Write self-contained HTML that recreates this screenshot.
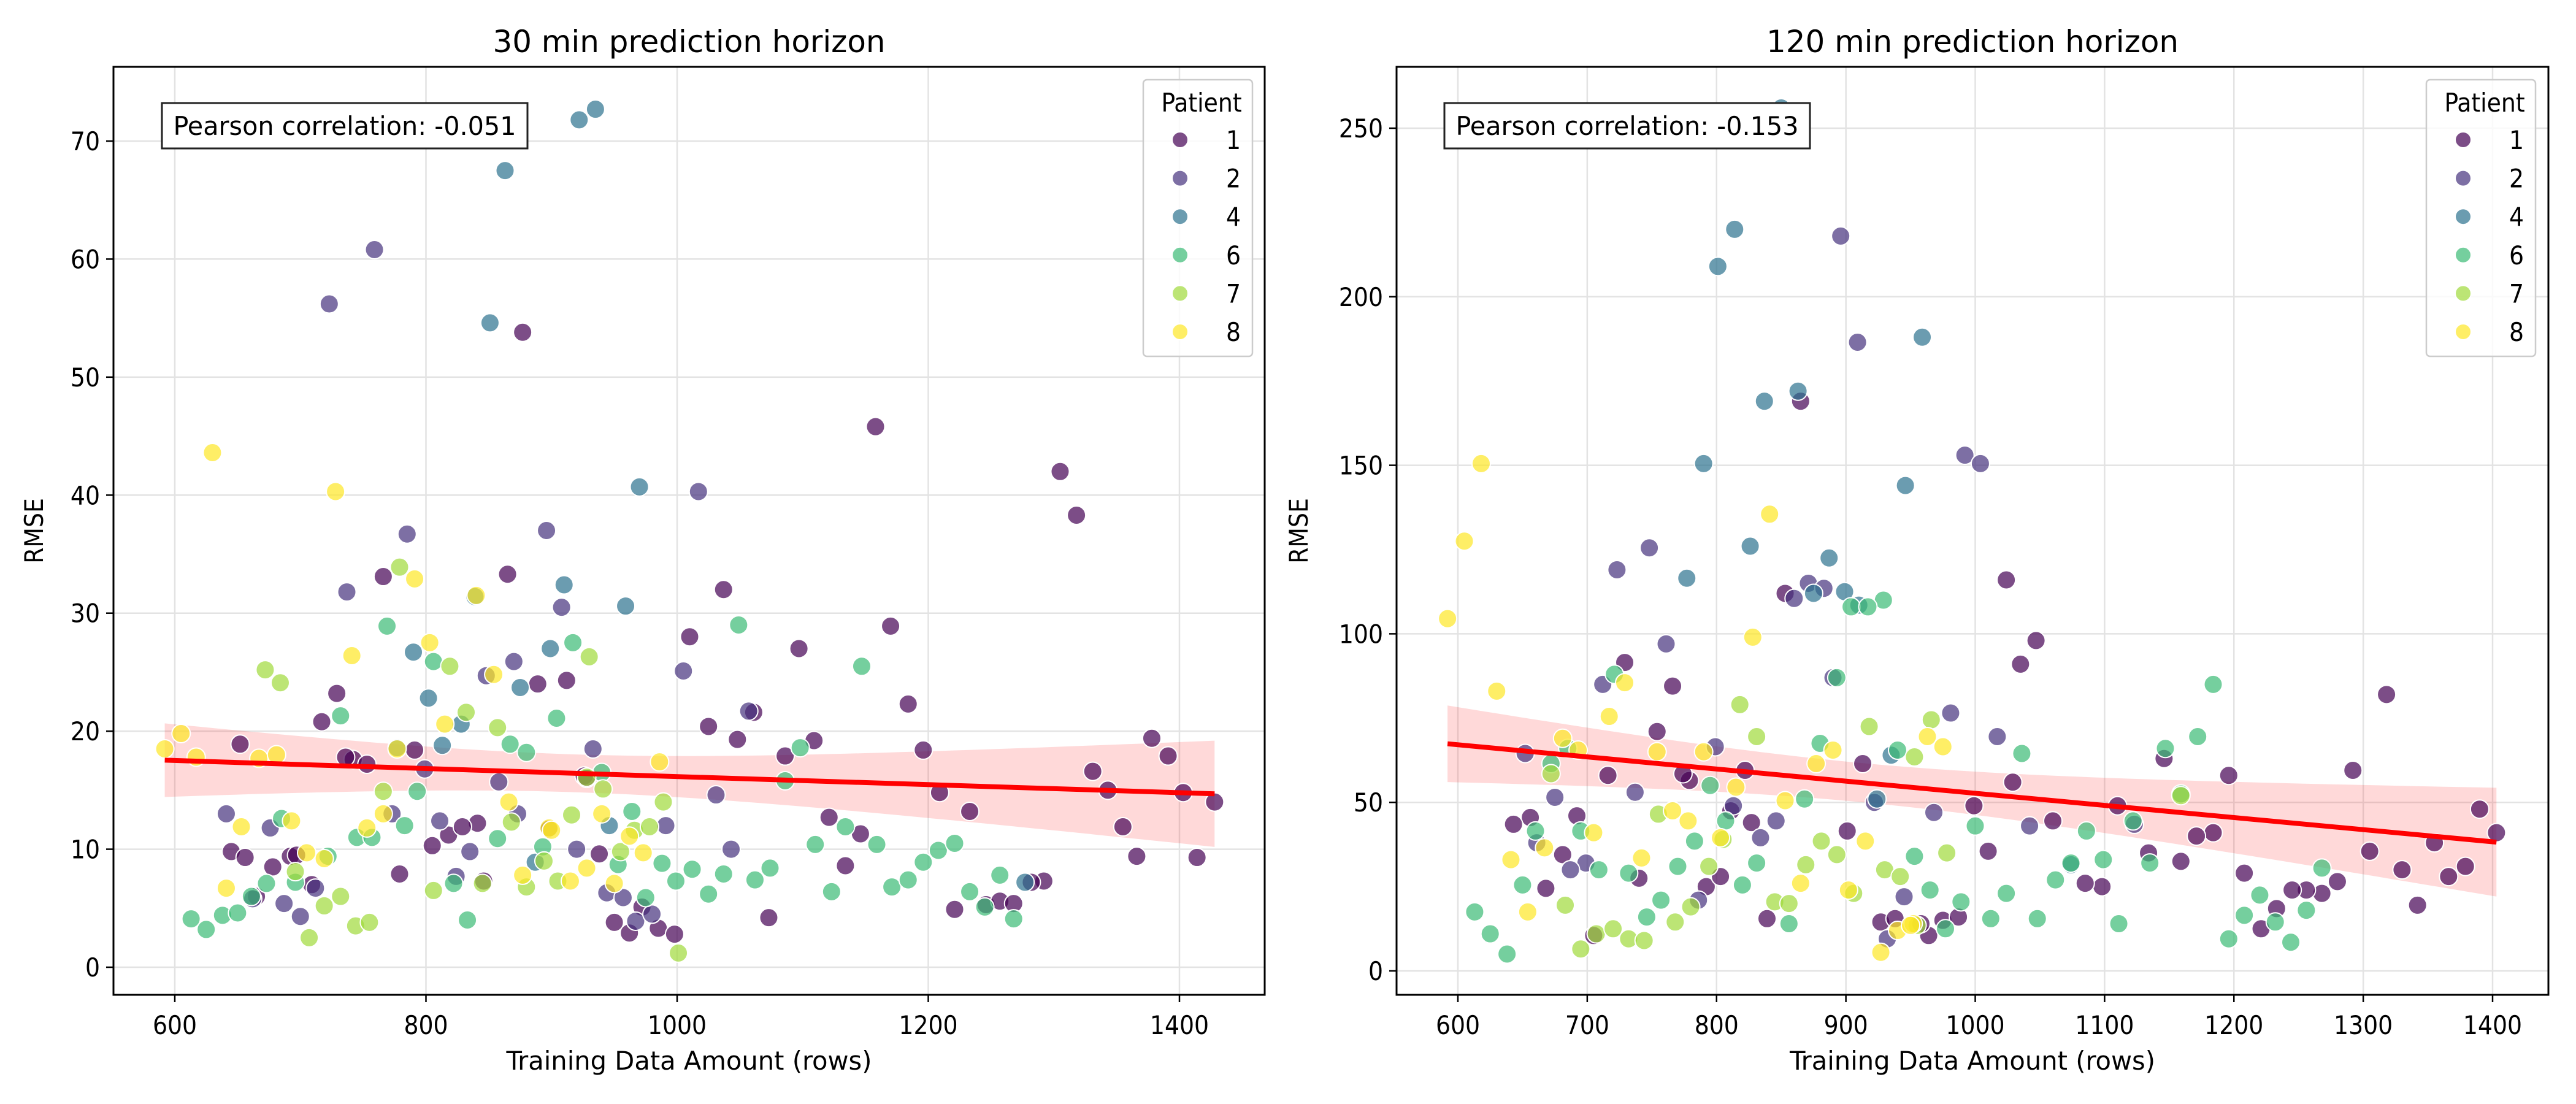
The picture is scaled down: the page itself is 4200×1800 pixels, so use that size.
<!DOCTYPE html>
<html><head><meta charset="utf-8"><style>
body{margin:0;background:#fff}
svg{display:block;font-family:"DejaVu Sans Condensed","DejaVu Sans","Liberation Sans",sans-serif}
</style></head><body>
<svg id="fig" width="4200" height="1800" viewBox="0 0 4200 1800" xmlns="http://www.w3.org/2000/svg"></svg>
<script>
// ---------- data ----------
const patients = [1,2,4,6,7,8];
const colors = ['#440154','#46327e','#2c728e','#3bbb75','#9fda3a','#fde725'];

const left_p1 = [[877,53.8],[1158,45.8],[1305,42],[1318,38.3],[865,33.3],[1037,32],[1170,28.9],[1010,28],[1097,27],[889,24],[912,24.3],[729,23.2],[1184,22.3],[1061,21.6],[717,20.8],[1025,20.4],[1048,19.3],[1109,19.2],[1378,19.4],[1196,18.4],[652,18.9],[791,18.4],[1391,17.9],[1086,17.9],[742,17.6],[753,17.2],[1331,16.6],[926,16.2],[1343,15],[1209,14.8],[1403,14.8],[1428,14],[1233,13.2],[1121,12.7],[841,12.2],[1355,11.9],[1146,11.3],[818,11.2],[829,11.9],[645,9.8],[938,9.6],[1366,9.4],[656,9.3],[692,9.4],[1414,9.3],[1134,8.6],[678,8.5],[1292,7.3],[1282,7.2],[779,7.9],[846,7.3],[805,10.3],[709,7.0],[1246,5.3],[1257,5.6],[1268,5.4],[1221,4.9],[1073,4.2],[950,3.8],[962,2.9],[985,3.3],[998,2.8],[972,5.1],[665,6.0],[697,9.5],[736,17.8],[766,33.1],[898,11.7],[928,16.0]];
const left_p2 = [[759,60.8],[723,56.2],[1017,40.3],[785,36.7],[896,37],[737,31.8],[908,30.5],[1005,25.1],[870,25.9],[848,24.7],[933,18.5],[1057,21.7],[799,16.8],[858,15.7],[641,13],[676,11.8],[811,12.4],[920,10],[991,12],[835,9.8],[1031,14.6],[1043,10],[873,13],[687,5.4],[700,4.3],[712,6.7],[662,5.8],[824,7.7],[944,6.3],[957,5.9],[967,3.9],[980,4.5],[773,13]];
const left_p4 = [[935,72.7],[922,71.8],[863,67.5],[851,54.6],[970,40.7],[910,32.4],[959,30.6],[839,31.4],[899,27],[790,26.7],[875,23.7],[802,22.8],[828,20.6],[813,18.8],[777,18.6],[946,12],[887,8.9],[1277,7.2]];
const left_p6 = [[769,28.9],[1049,29],[917,27.5],[1147,25.5],[806,25.9],[732,21.3],[904,21.1],[867,18.9],[1098,18.6],[880,18.2],[964,13.2],[793,14.9],[745,11],[757,11],[783,12],[857,10.9],[893,10.2],[1110,10.4],[1134,11.9],[1159,10.4],[1208,9.9],[1221,10.5],[1196,8.9],[988,8.8],[953,8.7],[1012,8.3],[1037,7.9],[1062,7.4],[1074,8.4],[999,7.3],[1025,6.2],[1123,6.4],[1171,6.8],[1184,7.4],[1233,6.4],[1257,7.8],[1245,5.1],[1268,4.1],[975,5.9],[822,7.1],[673,7.1],[661,6],[613,4.1],[625,3.2],[638,4.4],[650,4.6],[685,12.6],[722,9.4],[833,4],[696,7.2],[1086,15.8],[940,16.5]];
const left_p7 = [[672,25.2],[684,24.1],[779,33.9],[819,25.5],[930,26.3],[832,21.6],[857,20.3],[766,14.9],[868,12.3],[916,12.9],[955,9.8],[966,11.6],[978,11.9],[989,14],[941,15.1],[894,9],[880,6.8],[905,7.3],[845,7.1],[806,6.5],[732,6],[719,5.2],[707,2.5],[744,3.5],[755,3.8],[696,8.1],[1001,1.2],[928,16.1]];
const left_p8 = [[592,18.5],[605,19.8],[617,17.8],[667,17.7],[681,18],[630,43.6],[728,40.3],[791,32.9],[741,26.4],[803,27.5],[840,31.5],[854,24.8],[815,20.6],[777,18.5],[866,14],[940,13],[986,17.4],[766,13],[753,11.8],[693,12.4],[653,11.9],[705,9.7],[719,9.2],[641,6.7],[898,11.8],[900,11.6],[962,11.1],[973,9.7],[928,8.4],[950,7.1],[915,7.3],[877,7.8]];

const right_p1 = [[865,169],[1024,116],[1047,98],[1035,91],[853,112],[1318,82],[754,71],[729,91.5],[766,84.5],[716,58],[1292,59.5],[1196,58],[1146,63],[1010,35.5],[1029,56],[901,41.5],[913,61.5],[822,59.5],[999,49],[1110,49],[1060,44.5],[1184,41],[1171,40],[1390,48],[1403,41],[1355,38],[1305,35.5],[1330,30],[1379,31],[1366,28],[1342,19.5],[1280,26.5],[1268,23],[1256,24],[1245,24],[1233,18.5],[1221,12.5],[1208,29],[1134,35],[1159,32.5],[1098,25],[1085,26],[792,25],[803,28],[740,27.5],[779,56.5],[774,58.5],[668,24.5],[656,45.5],[643,43.5],[681,34.5],[692,46],[705,10.5],[827,44],[811,47.5],[839,15.5],[927,14.5],[938,15.5],[964,10.5],[975,15],[987,16],[958,14]];
const right_p2 = [[896,218],[909,186.5],[992,153],[1004,150.5],[723,119],[748,125.5],[860,110.5],[871,115],[883,113.5],[761,97],[712,85],[981,76.5],[1017,69.5],[799,66.5],[890,87],[675,51.5],[652,64.5],[661,38],[737,53],[699,32],[687,30],[786,21],[834,39.5],[846,44.5],[922,50],[968,47],[1042,43],[945,22],[932,9.5],[1123,43.5],[813,49]];
const right_p4 = [[850,256],[814,220],[801,209],[959,188],[863,172],[837,169],[790,150.5],[946,144],[887,122.5],[826,126],[777,116.5],[899,112.5],[875,112],[910,108.5],[935,64],[924,51],[1074,31.5]];
const right_p6 = [[929,110],[904,108],[917,108],[1184,85],[721,88],[893,87],[1172,69.5],[1147,66],[1036,64.5],[940,65.5],[880,67.5],[685,66],[672,61.5],[660,41.5],[695,41.5],[709,30],[732,29],[795,55],[807,44.5],[868,51],[1000,43],[1086,41.5],[1159,52.5],[1122,44.5],[1099,33],[1074,32],[1062,27],[953,34],[831,32],[770,31],[783,38.5],[757,21],[746,16],[650,25.5],[613,17.5],[625,11],[638,5],[820,25.5],[856,14],[965,24],[977,12.5],[989,20.5],[1012,15.5],[1024,23],[1048,15.5],[1111,14],[1196,9.5],[1208,16.5],[1220,22.5],[1232,14.5],[1244,8.5],[1256,18],[1268,30.5],[1135,32]];
const right_p7 = [[818,79],[831,69.5],[918,72.5],[966,74.5],[953,63.5],[1159,52],[755,46.5],[672,58.5],[780,19],[768,14.5],[683,19.5],[695,6.5],[707,11],[720,12.5],[732,9.5],[744,9],[794,31],[805,39],[845,20.5],[856,20],[869,31.5],[881,38.5],[893,34.5],[906,23],[930,30],[942,28],[978,35],[955,13.5]];
const right_p8 = [[592,104.5],[605,127.5],[618,150.5],[630,83],[641,33],[654,17.5],[667,36.5],[681,69],[693,65.5],[705,41],[717,75.5],[729,85.5],[742,33.5],[754,65],[766,47.5],[778,44.5],[790,65],[803,39.5],[815,54.5],[828,99],[841,135.5],[853,50.5],[865,26],[890,65.5],[877,61.5],[902,24],[915,38.5],[927,5.5],[940,12],[952,14],[963,69.5],[975,66.5],[950,13.5]];

const leftXTicks = [600,800,1000,1200,1400];
const leftYTicks = [0,10,20,30,40,50,60,70];
const rightXTicks = [600,700,800,900,1000,1100,1200,1300,1400];
const rightYTicks = [0,50,100,150,200,250];
const leftTitle = '30 min prediction horizon';
const rightTitle = '120 min prediction horizon';
const leftCorr = 'Pearson correlation: -0.051';
const rightCorr = 'Pearson correlation: -0.153';

// ---------- drawing ----------
const NS='http://www.w3.org/2000/svg';
const svg=document.getElementById('fig');
function mk(tag,attrs,parent){const e=document.createElementNS(NS,tag);for(const k in attrs)e.setAttribute(k,attrs[k]);(parent||svg).appendChild(e);return e;}

function panel(cfg){
  const g=mk('g',{});
  
  
  const X=v=>cfg.px0+(v-cfg.xa)*(cfg.px1-cfg.px0)/(cfg.xb-cfg.xa);
  const Y=v=>cfg.py0+(v-cfg.ya)*(cfg.py1-cfg.py0)/(cfg.yb-cfg.ya);
  const L=cfg.L,R=cfg.R,T=cfg.T,B=cfg.B;
  cfg.xt.forEach(t=>{const l=mk('line',{x1:X(t),x2:X(t),y1:T,y2:B,stroke:'#e3e3e3','stroke-width':2.5},g);
    });
  cfg.yt.forEach(t=>{const l=mk('line',{x1:L,x2:R,y1:Y(t),y2:Y(t),stroke:'#e3e3e3','stroke-width':2.5},g);
    });
  const all=[];cfg.series.forEach(s=>s.forEach(p=>all.push(p)));
  const n=all.length;let mx=0,my=0;all.forEach(p=>{mx+=p[0];my+=p[1];});mx/=n;my/=n;
  let sxx=0,sxy=0;all.forEach(p=>{sxx+=(p[0]-mx)**2;sxy+=(p[0]-mx)*(p[1]-my);});
  const b=sxy/sxx,a=my-b*mx;let sse=0;all.forEach(p=>{sse+=(p[1]-a-b*p[0])**2;});
  const se=Math.sqrt(sse/(n-2));
  let xmin=Infinity,xmax=-Infinity;all.forEach(p=>{xmin=Math.min(xmin,p[0]);xmax=Math.max(xmax,p[0]);});
  const up=[],dn=[];
  for(let i=0;i<=60;i++){const xv=xmin+(xmax-xmin)*i/60;const h=1.97*se*Math.sqrt(1/n+(xv-mx)**2/sxx);const yv=a+b*xv;
    up.push(X(xv).toFixed(1)+','+Y(yv+h).toFixed(1));dn.unshift(X(xv).toFixed(1)+','+Y(yv-h).toFixed(1));}
  const band=mk('polygon',{points:up.concat(dn).join(' '),fill:'#ff0000','fill-opacity':0.15},g);
  
  cfg.series.forEach((s,si)=>s.forEach(p=>{
    const c=mk('circle',{cx:X(p[0]),cy:Y(p[1]),r:15,fill:colors[si],'fill-opacity':0.7,stroke:'#fff','stroke-width':2},g);
    }));
  const rl=mk('line',{x1:X(xmin),y1:Y(a+b*xmin),x2:X(xmax),y2:Y(a+b*xmax),stroke:'#ff0000','stroke-width':8},g);
  
  const fr=mk('rect',{x:L,y:T,width:R-L,height:B-T,fill:'none',stroke:'#000','stroke-width':3},g);
  
  cfg.xt.forEach(t=>{mk('line',{x1:X(t),x2:X(t),y1:B,y2:B+12,stroke:'#000','stroke-width':2.5},g);
    const tx=mk('text',{x:X(t),y:B+64,'font-size':42,'text-anchor':'middle'},g);tx.textContent=t;
    });
  cfg.yt.forEach(t=>{mk('line',{x1:L-12,x2:L,y1:Y(t),y2:Y(t),stroke:'#000','stroke-width':2.5},g);
    const tx=mk('text',{x:L-22,y:Y(t)+15,'font-size':42,'text-anchor':'end'},g);tx.textContent=t;
    });
  const ti=mk('text',{x:(L+R)/2,y:85,'font-size':50,'text-anchor':'middle',textLength:cfg.titleW,lengthAdjust:'spacingAndGlyphs'},g);ti.textContent=cfg.title;
  
  const xl=mk('text',{x:(L+R)/2,y:1744,'font-size':42,'text-anchor':'middle',textLength:596,lengthAdjust:'spacingAndGlyphs'},g);xl.textContent='Training Data Amount (rows)';
  
  const yl=mk('text',{x:cfg.ylx,y:(T+B)/2,'font-size':42,'text-anchor':'middle',transform:'rotate(-90 '+cfg.ylx+' '+(T+B)/2+')'},g);yl.textContent='RMSE';
  
  const bx=mk('rect',{x:cfg.bx,y:168,width:596,height:74,fill:'#fff',stroke:'#222','stroke-width':3},g);
  
  const bt=mk('text',{x:cfg.bx+298,y:220,'font-size':42,'text-anchor':'middle',textLength:559,lengthAdjust:'spacingAndGlyphs'},g);bt.textContent=cfg.corr;
  
  const lg=mk('g',{},g);
  mk('rect',{x:cfg.lx,y:130,width:178,height:451,rx:6,fill:'#fff','fill-opacity':0.8,stroke:'#ccc','stroke-width':2.5},lg);
  const lt=mk('text',{x:cfg.lx+95,y:182,'font-size':42,'text-anchor':'middle'},lg);lt.textContent='Patient';
  
  patients.forEach((p,i)=>{const y=228+i*62.6;
    const e=mk('g',{},lg);
    mk('circle',{cx:cfg.lx+60,cy:y,r:13,fill:colors[i],'fill-opacity':0.7,stroke:'#fff','stroke-width':2},e);
    const t=mk('text',{x:cfg.lx+147,y:y+15,'font-size':42,'text-anchor':'middle'},e);t.textContent=p;});
}
panel({name:'left-panel-30min',title:leftTitle,titleW:640,corr:leftCorr,series:[left_p1,left_p2,left_p4,left_p6,left_p7,left_p8],
  L:185,R:2062,T:109,B:1622,xa:600,xb:1400,px0:285,px1:1923,ya:0,yb:70,py0:1577,py1:230,
  xt:leftXTicks,yt:leftYTicks,ylx:70,bx:264,lx:1864});
panel({name:'right-panel-120min',title:rightTitle,titleW:672,corr:rightCorr,series:[right_p1,right_p2,right_p4,right_p6,right_p7,right_p8],
  L:2277,R:4155,T:109,B:1622,xa:600,xb:1400,px0:2377,px1:4064,ya:0,yb:250,py0:1583,py1:209,
  xt:rightXTicks,yt:rightYTicks,ylx:2132,bx:2355,lx:3956});
</script>
</body></html>
